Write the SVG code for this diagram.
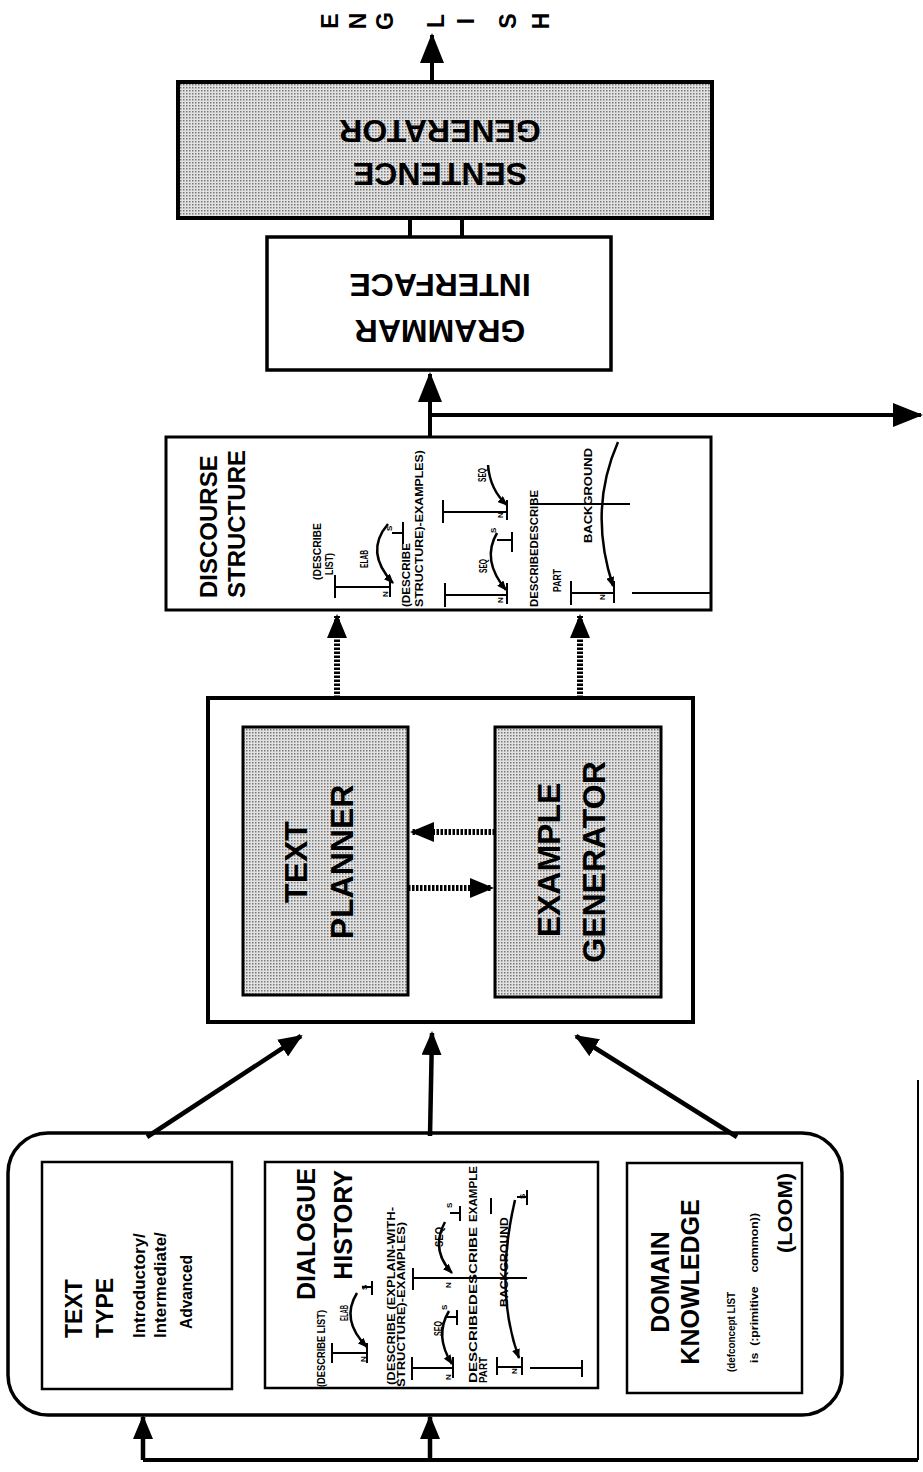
<svg xmlns="http://www.w3.org/2000/svg" width="923" height="1472" viewBox="0 0 923 1472">
<defs>
<pattern id="stip" width="3" height="3" patternUnits="userSpaceOnUse"><rect width="3" height="3" fill="#e2e2e2"/><rect width="1.5" height="1.5" fill="#777"/></pattern>
<marker id="ah" markerUnits="userSpaceOnUse" viewBox="0 0 30 24" markerWidth="30" markerHeight="24" refX="28" refY="12" orient="auto"><path d="M0,0 L30,12 L0,24 Z" fill="#000"/></marker>
<marker id="am" markerUnits="userSpaceOnUse" viewBox="0 0 24 20" markerWidth="24" markerHeight="20" refX="22" refY="10" orient="auto"><path d="M0,0 L24,10 L0,20 Z" fill="#000"/></marker>
<marker id="as" markerUnits="userSpaceOnUse" viewBox="0 0 10 8" markerWidth="10" markerHeight="8" refX="9" refY="4" orient="auto"><path d="M0,0 L10,4 L0,8 Z" fill="#000"/></marker>
</defs>
<style>
text{font-family:"Liberation Sans",Arial,sans-serif;font-weight:bold;fill:#000}
.box{fill:#fff;stroke:#000;stroke-width:3}
.stp{fill:url(#stip);stroke:#000;stroke-width:3}
.big{font-size:32px}
.mid{font-size:24px}
.s{font-size:10px}
.t{font-size:8px}
.eng{font-size:23px}
.ln{fill:none;stroke:#000;stroke-width:2}
.arc{fill:none;stroke:#000;stroke-width:2.5;marker-end:url(#as)}
.c{fill:none;stroke:#000;stroke-width:4}
.ca{fill:none;stroke:#000;stroke-width:4;marker-end:url(#ah)}
.cm{fill:none;stroke:#000;stroke-width:4.5;marker-end:url(#am)}
.hat{fill:none;stroke:#000;stroke-width:6;stroke-dasharray:2.5 1.5;marker-end:url(#am)}
</style>
<rect width="923" height="1472" fill="#fff"/>

<g id="english">
<text class="eng" text-anchor="middle" transform="translate(338,21) rotate(-90)">E</text>
<text class="eng" text-anchor="middle" transform="translate(366,21) rotate(-90)">N</text>
<text class="eng" text-anchor="middle" transform="translate(393,21) rotate(-90)">G</text>
<text class="eng" text-anchor="middle" transform="translate(444,21) rotate(-90)">L</text>
<text class="eng" text-anchor="middle" transform="translate(474,21) rotate(-90)">I</text>
<text class="eng" text-anchor="middle" transform="translate(516,21) rotate(-90)">S</text>
<text class="eng" text-anchor="middle" transform="translate(549,21) rotate(-90)">H</text>
</g>

<g id="sentence-generator">
<rect class="stp" x="178" y="82" width="534" height="136" style="stroke-width:4"/>
<text class="big" text-anchor="middle" transform="translate(440,163) rotate(180)">SENTENCE</text>
<text class="big" text-anchor="middle" transform="translate(440,120) rotate(180)">GENERATOR</text>
</g>

<g id="grammar-interface">
<rect class="box" x="267" y="237" width="344" height="133" style="stroke-width:3.5"/>
<text class="big" text-anchor="middle" transform="translate(440,274) rotate(180)">INTERFACE</text>
<text class="big" text-anchor="middle" transform="translate(440,320) rotate(180)">GRAMMAR</text>
</g>

<g id="discourse-structure">
<rect class="box" x="166" y="437" width="545" height="173"/>
<text class="mid" transform="translate(217,598) rotate(-90)">DISCOURSE</text>
<text class="mid" transform="translate(245,598) rotate(-90)">STRUCTURE</text>
<text class="s" transform="translate(321,580) rotate(-90)" textLength="57" lengthAdjust="spacingAndGlyphs">(DESCRIBE</text>
<text class="s" transform="translate(333,575) rotate(-90)" textLength="22" lengthAdjust="spacingAndGlyphs">LIST)</text>
<text class="s" transform="translate(368,568) rotate(-90)" textLength="18" lengthAdjust="spacingAndGlyphs">ELAB</text>
<text class="t" transform="translate(388,597) rotate(-90)">N</text>
<text class="t" transform="translate(392,531) rotate(-90)">S</text>
<text class="s" transform="translate(410,607) rotate(-90)" textLength="64" lengthAdjust="spacingAndGlyphs">(DESCRIBE</text>
<text class="s" transform="translate(423,607) rotate(-90)" textLength="157" lengthAdjust="spacingAndGlyphs">STRUCTURE)-EXAMPLES)</text>
<text class="s" transform="translate(486,482) rotate(-90)" textLength="14" lengthAdjust="spacingAndGlyphs">SEQ</text>
<text class="s" transform="translate(487,573) rotate(-90)" textLength="14" lengthAdjust="spacingAndGlyphs">SEQ</text>
<text class="t" transform="translate(503,518) rotate(-90)">N</text>
<text class="t" transform="translate(503,603) rotate(-90)">N</text>
<text class="t" transform="translate(496,533) rotate(-90)">S</text>
<text class="s" transform="translate(538,607) rotate(-90)" textLength="117" lengthAdjust="spacingAndGlyphs">DESCRIBEDESCRIBE</text>
<text class="s" transform="translate(561,592) rotate(-90)" textLength="23" lengthAdjust="spacingAndGlyphs">PART</text>
<text class="s" transform="translate(592,543) rotate(-90)" textLength="95" lengthAdjust="spacingAndGlyphs">BACKGROUND</text>
<text class="t" transform="translate(605,600) rotate(-90)">N</text>
<path class="ln" d="M335,575 V598 M335,587 H390 M390,577 V597 M392,533 H403 M403,522 V544 M445,583 V607 M445,595 H507 M507,583 V604 M497,540 H512 M512,532 V552 M443,500 V523 M443,512 H507 M507,500 V520 M530,504 H630 M571,581 V605 M571,593 H614 M614,581 V603 M632,593 H710"/>
<path class="arc" d="M388,524 Q364,552 393,583"/>
<path class="arc" d="M497,533 Q481,560 506,590"/>
<path class="arc" d="M488,465 Q490,490 507,505"/>
<path class="arc" d="M618,442 Q588,510 613,586"/>
</g>

<g id="planner-box">
<rect class="box" x="208" y="698" width="485" height="324" style="stroke-width:4"/>
</g>
<g id="text-planner">
<rect class="stp" x="243" y="727" width="165" height="268"/>
<text class="big" text-anchor="middle" transform="translate(307,862) rotate(-90)">TEXT</text>
<text class="big" text-anchor="middle" transform="translate(353,862) rotate(-90)">PLANNER</text>
</g>
<g id="example-generator">
<rect class="stp" x="495" y="727" width="166" height="270"/>
<text class="big" text-anchor="middle" transform="translate(560,860) rotate(-90)">EXAMPLE</text>
<text class="big" text-anchor="middle" transform="translate(605,862) rotate(-90)">GENERATOR</text>
</g>

<g id="knowledge-sources">
<rect class="box" x="8" y="1133" width="834" height="282" rx="40" ry="40" style="stroke-width:3.5"/>
</g>
<g id="text-type">
<rect class="box" x="42" y="1162" width="190" height="227" style="stroke-width:2.5"/>
<text font-size="23" transform="translate(82,1338) rotate(-90)">TEXT</text>
<text font-size="23" transform="translate(113,1338) rotate(-90)">TYPE</text>
<text font-size="17" transform="translate(145,1338) rotate(-90)">Introductory/</text>
<text font-size="17" transform="translate(166,1338) rotate(-90)">Intermediate/</text>
<text font-size="17" transform="translate(192,1329) rotate(-90)" textLength="74" lengthAdjust="spacingAndGlyphs">Advanced</text>
</g>
<g id="dialogue-history">
<rect class="box" x="265" y="1162" width="333" height="226" style="stroke-width:2.5"/>
<text font-size="25" text-anchor="end" transform="translate(315,1168) rotate(-90)">DIALOGUE</text>
<text font-size="25" text-anchor="end" transform="translate(352,1170) rotate(-90)">HISTORY</text>
<text class="s" transform="translate(325,1387) rotate(-90)" textLength="77" lengthAdjust="spacingAndGlyphs">(DESCRIBE LIST)</text>
<text class="s" transform="translate(348,1321) rotate(-90)" textLength="16" lengthAdjust="spacingAndGlyphs">ELAB</text>
<text class="t" transform="translate(367,1290) rotate(-90)">S</text>
<text class="t" transform="translate(366,1362) rotate(-90)">N</text>
<text class="s" transform="translate(395,1385) rotate(-90)" textLength="178" lengthAdjust="spacingAndGlyphs">(DESCRIBE  (EXPLAIN-WITH-</text>
<text class="s" transform="translate(405,1387) rotate(-90)" textLength="165" lengthAdjust="spacingAndGlyphs">STRUCTURE)-EXAMPLES)</text>
<text class="s" transform="translate(442,1336) rotate(-90)" textLength="15" lengthAdjust="spacingAndGlyphs">SEQ</text>
<text class="t" transform="translate(447,1310) rotate(-90)">S</text>
<text class="t" transform="translate(451,1380) rotate(-90)">N</text>
<text class="s" transform="translate(443,1247) rotate(-90)" textLength="20" lengthAdjust="spacingAndGlyphs">SEQ</text>
<text class="t" transform="translate(452,1208) rotate(-90)">S</text>
<text class="t" transform="translate(451,1288) rotate(-90)">N</text>
<text class="s" transform="translate(477,1383) rotate(-90)" textLength="156" lengthAdjust="spacingAndGlyphs">DESCRIBEDESCRIBE</text>
<text class="s" transform="translate(477,1222) rotate(-90)" textLength="56" lengthAdjust="spacingAndGlyphs">EXAMPLE</text>
<text class="s" transform="translate(487,1383) rotate(-90)" textLength="26" lengthAdjust="spacingAndGlyphs">PART</text>
<text class="s" transform="translate(508,1307) rotate(-90)" textLength="90" lengthAdjust="spacingAndGlyphs">BACKGROUND</text>
<text class="t" transform="translate(525,1199) rotate(-90)">S</text>
<text class="t" transform="translate(517,1374) rotate(-90)">N</text>
<path class="ln" d="M332,1343 V1363 M332,1353 H367 M367,1343 V1363 M362,1287 H372 M372,1281 V1295 M412,1357 V1380 M412,1368 H453 M453,1357 V1378 M447,1317 H457 M457,1310 V1325 M413,1268 V1290 M413,1278 H527 M450,1213 H460 M460,1206 V1221 M491,1198 V1214 M517,1197 H527 M527,1190 V1205 M497,1357 V1375 M497,1367 H522 M522,1357 V1375 M530,1368 H582 M582,1360 V1377"/>
<path class="arc" d="M357,1293 Q340,1320 367,1347"/>
<path class="arc" d="M449,1311 Q434,1336 452,1364"/>
<path class="arc" d="M445,1222 Q430,1250 452,1273"/>
<path class="arc" d="M515,1200 Q494,1290 519,1358"/>
</g>
<g id="domain-knowledge">
<rect class="box" x="627" y="1163" width="175" height="230" style="stroke-width:2.5"/>
<text font-size="25" text-anchor="middle" transform="translate(669,1282) rotate(-90)">DOMAIN</text>
<text font-size="25" text-anchor="middle" transform="translate(699,1282) rotate(-90)">KNOWLEDGE</text>
<text class="s" transform="translate(735,1372) rotate(-90)" textLength="80" lengthAdjust="spacingAndGlyphs">(defconcept LIST</text>
<text class="s" transform="translate(758,1363) rotate(-90)" textLength="150" xml:space="preserve" lengthAdjust="spacingAndGlyphs">is  (:primitive    common))</text>
<text font-size="21" transform="translate(792,1253) rotate(-90)" textLength="80" lengthAdjust="spacingAndGlyphs">(LOOM)</text>
</g>

<g id="connectors">
<path class="ca" d="M432,82 V35"/>
<path class="ca" d="M430,437 V374"/>
<path class="ca" d="M430,415 H921"/>
<path class="c" d="M410,218 V237 M462,218 V237"/>
<path class="hat" d="M337,698 V616"/>
<path class="hat" d="M580,698 V616"/>
<path class="hat" d="M495,832 H412"/>
<path class="hat" d="M408,888 H492"/>
<path class="cm" d="M147,1137 L301,1036"/>
<path class="cm" d="M430,1136 L432,1033"/>
<path class="cm" d="M737,1137 L576,1036"/>
<path fill="none" stroke="#000" stroke-width="2" d="M918,1080 V1460"/>
<path class="c" d="M918,1460 H143"/>
<path class="cm" d="M143,1460 V1417"/>
<path class="cm" d="M430,1460 V1417"/>
</g>
</svg>
